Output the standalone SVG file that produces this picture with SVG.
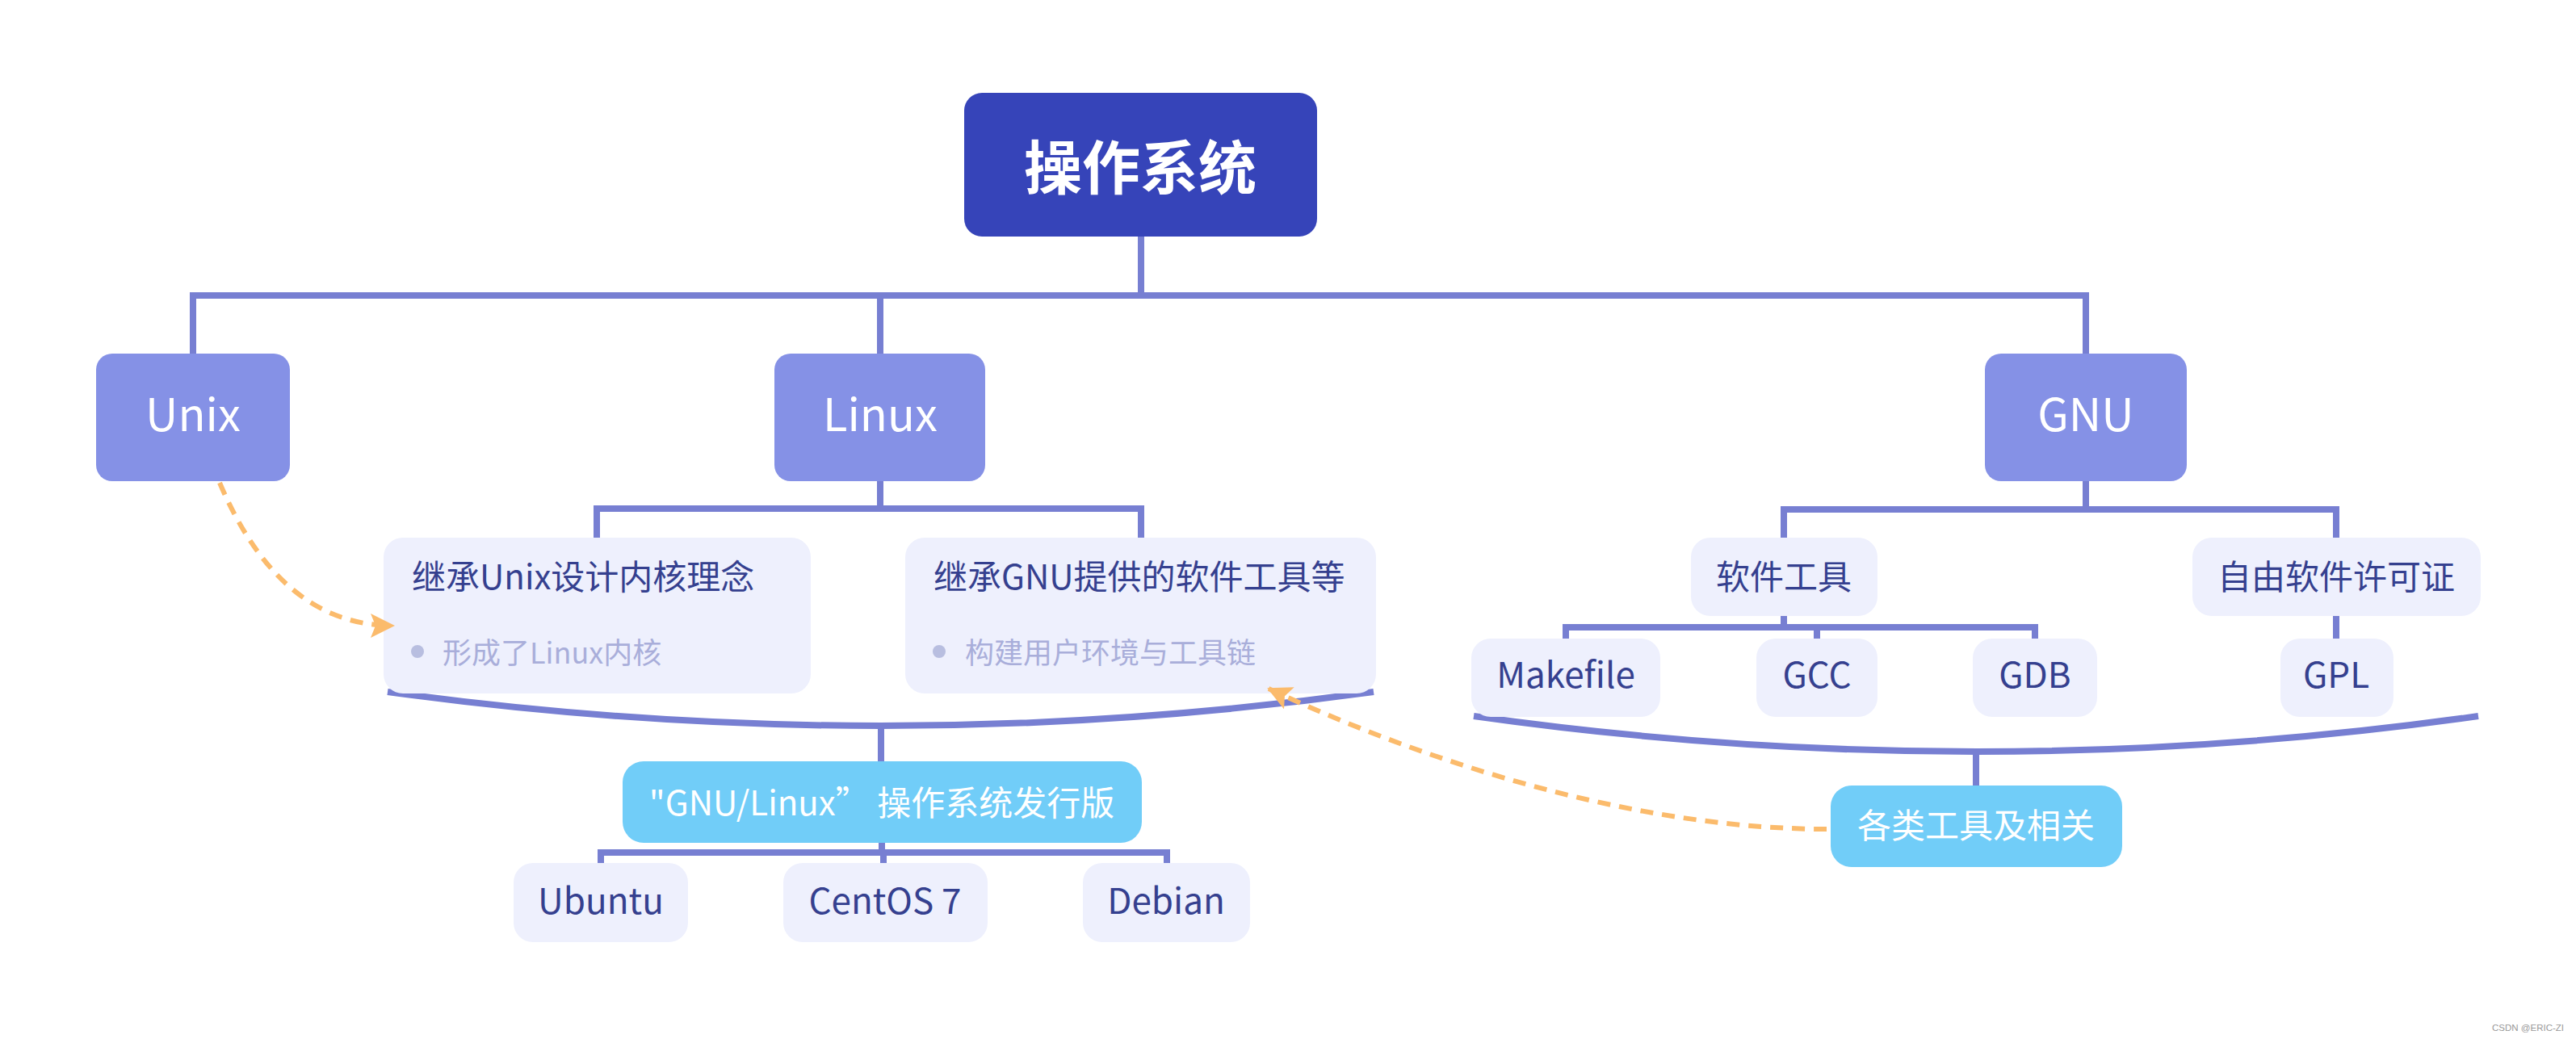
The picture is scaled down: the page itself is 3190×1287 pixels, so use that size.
<svg xmlns="http://www.w3.org/2000/svg" width="3190" height="1287" viewBox="0 0 3190 1287">
<defs>
<style>
text{font-family:"Noto Sans CJK SC","Noto Sans",sans-serif}
.root{fill:#3644B9}
.l1{fill:#8591E6}
.lt{fill:#EEF0FD}
.sky{fill:#71CDF8}
.wt{fill:#FFFFFF}
.dk{fill:#35408F}
.bt{fill:#A9AEDA}
.c{text-anchor:middle}
.conn path{fill:none;stroke:#777FD2;stroke-width:8;stroke-linejoin:miter;stroke-linecap:butt}
.dash path{fill:none;stroke:#FBBB6C;stroke-width:6;stroke-dasharray:16 11}
</style>
<marker id="ah" viewBox="0 0 30 30" refX="28" refY="15" markerWidth="30" markerHeight="30" markerUnits="userSpaceOnUse" orient="auto">
<path d="M0,0 L30,15 L0,30 L6,15 Z" fill="#FBBB6C"/>
</marker>
</defs>
<rect width="3190" height="1287" fill="#FFFFFF"/>
<g id="connectors" class="conn">
<path d="M1413,293 V366"/>
<path d="M239,438 V366 H2583 V438"/>
<path d="M1090,366 V438"/>
<path d="M1090,596 V630"/>
<path d="M739,666 V630 H1413 V666"/>
<path d="M2583,596 V631"/>
<path d="M2209,666 V631 H2893 V666"/>
<path d="M2209,763 V777"/>
<path d="M1939,791 V777 H2520 V791"/>
<path d="M2250,777 V791"/>
<path d="M2893,763 V791"/>
<path d="M480,857 Q1091,941 1701,857"/>
<path d="M1091,899 V943"/>
<path d="M1825,887 Q2447,975 3069,887"/>
<path d="M2447,931 V973"/>
<path d="M1092,1044 V1056"/>
<path d="M744,1069 V1056 H1445 V1069"/>
<path d="M1094,1056 V1069"/>
</g>
<g id="root">
<rect class="root" x="1194" y="115" width="437" height="178" rx="22"/>
<text class="wt c" x="1412" y="234" font-size="72" font-weight="bold">操作系统</text>
</g>
<g id="unix">
<rect class="l1" x="119" y="438" width="240" height="158" rx="20"/>
<text class="wt c" x="239" y="534" font-size="56">Unix</text>
</g>
<g id="linux">
<rect class="l1" x="959" y="438" width="261" height="158" rx="20"/>
<text class="wt c" x="1090" y="534" font-size="56">Linux</text>
</g>
<g id="gnu">
<rect class="l1" x="2458" y="438" width="250" height="158" rx="20"/>
<text class="wt c" x="2583" y="534" font-size="56">GNU</text>
</g>
<g id="inherit-unix">
<rect class="lt" x="475" y="666" width="529" height="193" rx="24"/>
<text class="dk" x="510" y="730" font-size="42">继承Unix设计内核理念</text>
<circle cx="517" cy="807" r="8" fill="#B8BEE0"/>
<text class="bt" x="548" y="822" font-size="36">形成了Linux内核</text>
</g>
<g id="inherit-gnu">
<rect class="lt" x="1121" y="666" width="583" height="193" rx="24"/>
<text class="dk" x="1156" y="730" font-size="42">继承GNU提供的软件工具等</text>
<circle cx="1163" cy="807" r="8" fill="#B8BEE0"/>
<text class="bt" x="1195" y="822" font-size="36">构建用户环境与工具链</text>
</g>
<g id="software-tools">
<rect class="lt" x="2094" y="666" width="231" height="97" rx="24"/>
<text class="dk c" x="2209" y="730" font-size="42">软件工具</text>
</g>
<g id="free-license">
<rect class="lt" x="2715" y="666" width="357" height="97" rx="24"/>
<text class="dk c" x="2893" y="730" font-size="42">自由软件许可证</text>
</g>
<g id="makefile">
<rect class="lt" x="1822" y="791" width="234" height="97" rx="24"/>
<text class="dk c" x="1939" y="852" font-size="44">Makefile</text>
</g>
<g id="gcc">
<rect class="lt" x="2175" y="791" width="150" height="97" rx="24"/>
<text class="dk c" x="2250" y="852" font-size="44">GCC</text>
</g>
<g id="gdb">
<rect class="lt" x="2443" y="791" width="154" height="97" rx="24"/>
<text class="dk c" x="2520" y="852" font-size="44">GDB</text>
</g>
<g id="gpl">
<rect class="lt" x="2824" y="791" width="140" height="97" rx="24"/>
<text class="dk c" x="2893" y="852" font-size="44">GPL</text>
</g>
<g id="gnu-linux">
<rect class="sky" x="771" y="943" width="643" height="101" rx="26"/>
<text class="wt c" x="1092" y="1010" font-size="42">"GNU/Linux” 操作系统发行版</text>
</g>
<g id="tools-related">
<rect class="sky" x="2267" y="973" width="361" height="101" rx="26"/>
<text class="wt c" x="2447" y="1038" font-size="42">各类工具及相关</text>
</g>
<g id="ubuntu">
<rect class="lt" x="636" y="1069" width="216" height="98" rx="24"/>
<text class="dk c" x="744" y="1132" font-size="44">Ubuntu</text>
</g>
<g id="centos">
<rect class="lt" x="970" y="1069" width="253" height="98" rx="24"/>
<text class="dk c" x="1096" y="1132" font-size="44">CentOS 7</text>
</g>
<g id="debian">
<rect class="lt" x="1341" y="1069" width="207" height="98" rx="24"/>
<text class="dk c" x="1444" y="1132" font-size="44">Debian</text>
</g>
<g id="relations" class="dash">
<path d="M272,598 Q347,775 487,775" marker-end="url(#ah)"/>
<path d="M2262,1027 C2050,1027 1800,960 1571,853" marker-end="url(#ah)"/>
</g>
<text x="3175" y="1277" font-size="11.5" fill="#999999" text-anchor="end" style="font-family:'Liberation Sans',Arial,sans-serif">CSDN @ERIC-ZI</text>
</svg>
